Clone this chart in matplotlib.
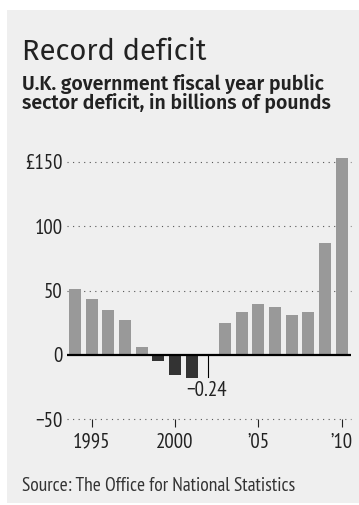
import matplotlib
matplotlib.use("Agg")
import matplotlib.pyplot as plt
from matplotlib.patches import Rectangle

# Public sector deficit by fiscal year, billions of pounds
years = [1994, 1995, 1996, 1997, 1998, 1999, 2000, 2001, 2002,
         2003, 2004, 2005, 2006, 2007, 2008, 2009, 2010]
deficit = [50.9, 43.2, 34.7, 27.2, 5.9, -4.4, -15.5, -18.1, -0.24,
           25.1, 33.1, 39.8, 37.5, 31.0, 33.6, 86.6, 152.6]

ytick_vals = [-50, 0, 50, 100, 150]
ytick_labels = ["\u221250", "0", "50", "100", "\u00a3150"]
xtick_vals = [1995, 2000, 2005, 2010]
xtick_labels = ["1995", "2000", "\u201905", "\u201910"]

callout_year = 2002
callout_text = "\u22120.24"

NARROW = ["PT Sans Narrow", "DejaVu Sans"]
HEAD = ["Fira Sans", "DejaVu Sans"]

fig = plt.figure(figsize=(3.59, 5.05), dpi=100)
fig.patch.set_facecolor("white")

# grey panel behind everything
fig.patches.append(Rectangle((7 / 359, 1 - 503 / 505), 1 - 7 / 359, 493 / 505,
                             transform=fig.transFigure, facecolor="#efefef",
                             edgecolor="none", zorder=-10))

ax = fig.add_axes([67 / 359, 1 - 419.4 / 505, 284 / 359, 265.4 / 505])
ax.set_facecolor("none")

colors = ["#999999" if v >= 0 else "#333333" for v in deficit]
ax.bar(years, deficit, width=0.72, color=colors, zorder=3)

ax.set_xlim(1993.52, 2010.56)
ax.set_ylim(-50, 156)

# dotted gridlines
for v in ytick_vals:
    if v != 0:
        ax.axhline(v, color="#555555", lw=0.8, ls=(0, (1, 4)), zorder=1, clip_on=False)
ax.axhline(0, color="black", lw=1.6, zorder=4)

# leader line for the tiny 2002 value
ax.plot([callout_year, callout_year], [0, -17.3], color="black", lw=0.8, zorder=4)
ax.text(callout_year - 0.1, -27.5, callout_text, ha="center", va="center",
        fontsize=15, family=NARROW, color="#222222")

for s in ax.spines.values():
    s.set_visible(False)

ax.set_yticks(ytick_vals)
ax.set_yticklabels(ytick_labels, family=NARROW, fontsize=15, color="#222222")
ax.tick_params(axis="y", length=0, pad=3)

ax.set_xticks(xtick_vals)
ax.set_xticklabels(xtick_labels, family=NARROW, fontsize=15, color="#222222")
ax.tick_params(axis="x", direction="out", length=6, width=0.8, color="#222222", pad=3.5)

fig.text(22 / 359, 1 - 59.5 / 505, "Record deficit", family=HEAD, fontsize=21,
         fontweight="normal", color="#222222", va="baseline", ha="left")
fig.text(22 / 359, 1 - 90 / 505, "U.K. government fiscal year public", family=HEAD,
         fontsize=14, fontweight=600, color="#222222", va="baseline", ha="left")
fig.text(22 / 359, 1 - 109 / 505, "sector deficit, in billions of pounds", family=HEAD,
         fontsize=14, fontweight=600, color="#222222", va="baseline", ha="left")
fig.text(22 / 359, 1 - 490.7 / 505, "Source: The Office for National Statistics",
         family=NARROW, fontsize=14, color="#333333", va="baseline", ha="left")

fig.savefig("out.png", dpi=100, facecolor=fig.get_facecolor())
